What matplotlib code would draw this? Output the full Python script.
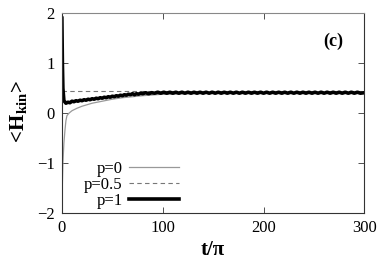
import matplotlib
matplotlib.use("Agg")
import matplotlib.pyplot as plt

plt.rcParams['font.family'] = ['Liberation Serif', 'DejaVu Serif']
plt.rcParams['mathtext.fontset'] = 'custom'
plt.rcParams['mathtext.rm'] = 'Liberation Serif'
plt.rcParams['mathtext.it'] = 'Liberation Serif:bold'
plt.rcParams['mathtext.bf'] = 'Liberation Serif:bold'

# p=0 (thin gray)
t_p0 = [0, 0.5, 1, 2, 3, 4, 5, 7, 10, 15, 20, 30, 40, 50, 60, 70, 80, 100, 120, 150, 200, 250, 300]
h_p0 = [-1.9, -1.4, -1.0, -0.6, -0.35, -0.15, -0.05, 0.0, 0.05, 0.1, 0.14, 0.2, 0.24, 0.28,
        0.31, 0.33, 0.35, 0.38, 0.39, 0.40, 0.41, 0.41, 0.41]

# p=0.5 (dashed)
t_p05 = [0, 300]
h_p05 = [0.44, 0.44]

# p=1 (thick black, noisy)
t_p1 = [0, 0.5, 1, 2, 4, 6, 8, 10, 12, 14, 16, 18, 20, 22, 24, 26, 28, 30, 32, 34, 36, 38,
        40, 42, 44, 46, 48, 50, 52, 54, 56, 58, 60, 62, 64, 66, 68, 70, 72, 74, 76, 78, 80,
        83, 86, 89, 92, 95, 98, 101, 104, 107, 110, 113, 116, 119, 122, 125, 128, 131, 134,
        137, 140, 143, 146, 149, 152, 155, 158, 161, 164, 167, 170, 173, 176, 179, 182, 185,
        188, 191, 194, 197, 200, 203, 206, 209, 212, 215, 218, 221, 224, 227, 230, 233, 236,
        239, 242, 245, 248, 251, 254, 257, 260, 263, 266, 269, 272, 275, 278, 281, 284, 287,
        290, 293, 296, 300]
h_p1 = [1.9, 1.0, 0.5, 0.25, 0.2, 0.22, 0.21, 0.24, 0.23, 0.25, 0.24, 0.26, 0.25, 0.27, 0.26,
        0.28, 0.27, 0.29, 0.28, 0.30, 0.29, 0.31, 0.30, 0.32, 0.31, 0.33, 0.32, 0.34, 0.33,
        0.35, 0.34, 0.36, 0.35, 0.37, 0.36, 0.38, 0.37, 0.39, 0.37, 0.39, 0.38, 0.40, 0.39,
        0.41, 0.39, 0.41, 0.40, 0.42, 0.40, 0.42, 0.40, 0.42, 0.40, 0.42, 0.40, 0.42, 0.40,
        0.42, 0.40, 0.42, 0.40, 0.42, 0.40, 0.42, 0.40, 0.42, 0.40, 0.42, 0.40, 0.42, 0.40,
        0.42, 0.40, 0.42, 0.40, 0.42, 0.40, 0.42, 0.40, 0.42, 0.40, 0.42, 0.40, 0.42, 0.40,
        0.42, 0.40, 0.42, 0.40, 0.42, 0.40, 0.42, 0.40, 0.42, 0.40, 0.42, 0.40, 0.42, 0.40,
        0.42, 0.40, 0.42, 0.40, 0.42, 0.40, 0.42, 0.40, 0.42, 0.40, 0.42, 0.40, 0.42, 0.40,
        0.42, 0.40, 0.41]

fig = plt.figure(figsize=(3.82, 2.68), dpi=100)
ax = fig.add_axes([0.162, 0.204, 0.792, 0.747])

ax.plot(t_p0, h_p0, color='#999999', lw=0.9, label='p=0')
ax.plot(t_p05, h_p05, color='#777777', lw=0.8, ls=(0, (4, 3)), label='p=0.5')
ax.plot(t_p1, h_p1, color='black', lw=2.6, label='p=1')

ax.set_xlim(0, 300)
ax.set_ylim(-2, 2)
ax.set_xticks([0, 100, 200, 300])
ax.set_yticks([-2, -1, 0, 1, 2])
ax.tick_params(direction='in', top=True, right=True, labelsize=12, length=4, width=0.6,
               colors='#333333', labelcolor='black', pad=5)
for s in ax.spines.values():
    s.set_color('#333333')
    s.set_linewidth(0.8)
ax.spines['top'].set_color('#888888')

ax.set_xlabel('t/π', fontsize=15, fontweight='bold', labelpad=3)
ax.set_ylabel(r'$\mathbf{<\!H_{kin}\!>}$', fontsize=15, labelpad=6)

ax.text(0.93, 0.835, '(c)', transform=ax.transAxes, fontsize=13, fontweight='bold', ha='right')

ax.legend(loc='lower left', bbox_to_anchor=(0.035, -0.035), frameon=False, markerfirst=False,
          fontsize=12, handlelength=3.0, handletextpad=0.4, labelspacing=0.0,
          borderaxespad=0.3)

fig.savefig('out.png', dpi=100)
